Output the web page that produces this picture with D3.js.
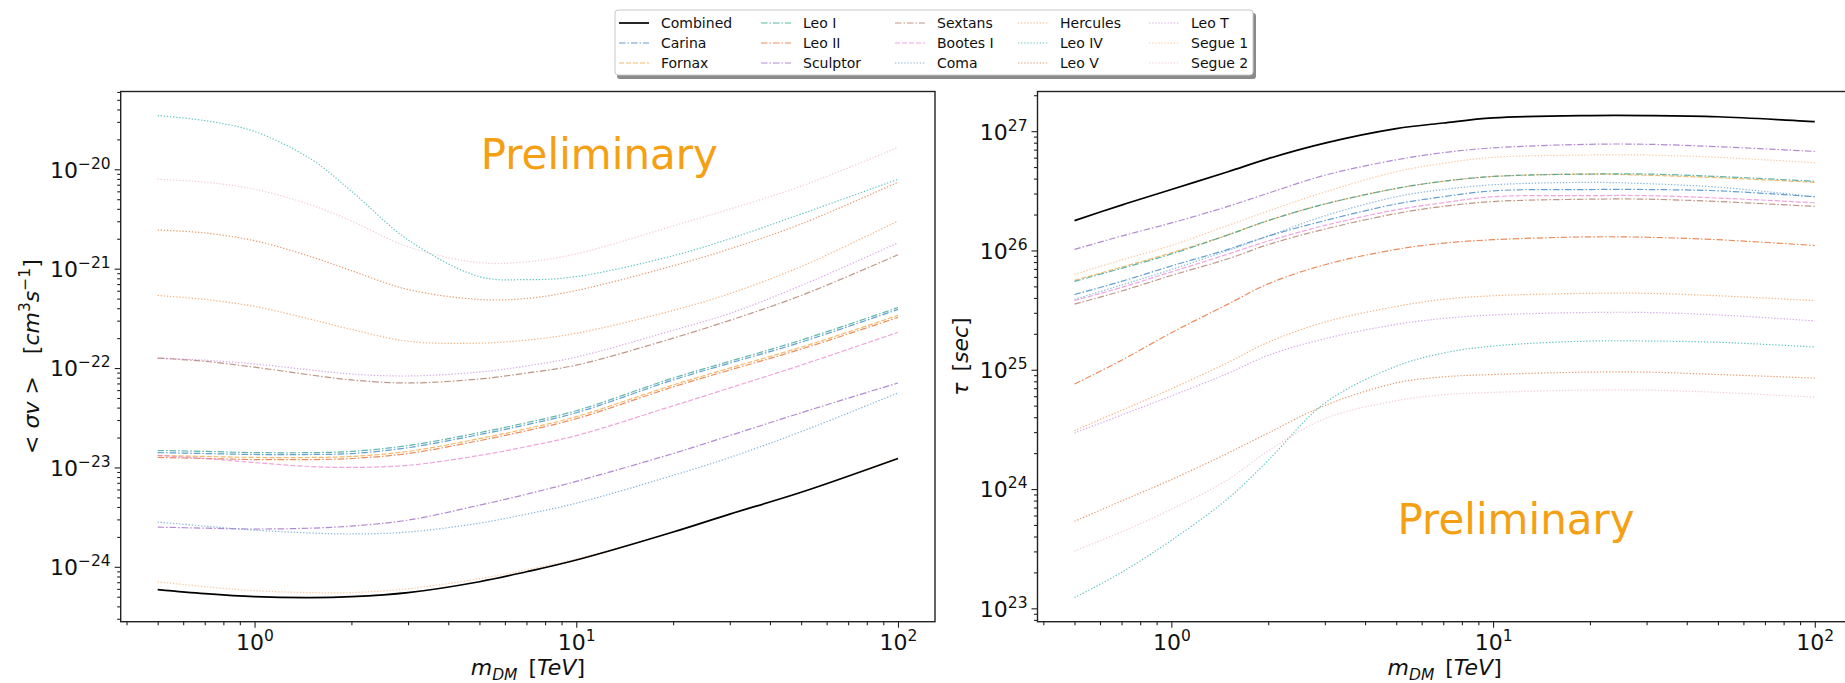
<!DOCTYPE html>
<html>
<head>
<meta charset="utf-8">
<script src="https://cdn.jsdelivr.net/npm/d3@7"></script>
<style>
    html, body { margin: 0; padding: 0; background: #fff; }
    svg { display: block; font-family: 'DejaVu Sans', sans-serif; }
</style>
</head>
<body>
<svg id="chart" width="1845" height="683"></svg>
<script>
'use strict'

// dark matter mass grid, TeV
const masses = [0.5, 0.7, 1, 1.5, 2, 3, 5, 7, 10, 20, 30, 50, 100]
const massTicks = [1, 10, 100]
const svTicks = [1e-24, 1e-23, 1e-22, 1e-21, 1e-20]
const tauTicks = [1e23, 1e24, 1e25, 1e26, 1e27]

const sources = ['Combined', 'Carina', 'Fornax', 'Leo I', 'Leo II', 'Sculptor', 'Sextans', 'Bootes I', 'Coma',
    'Hercules', 'Leo IV', 'Leo V', 'Leo T', 'Segue 1', 'Segue 2']

// <sigma v> limits, cm^3 s^-1
const svCombined = [5.89e-25, 5.37e-25, 5.01e-25, 4.90e-25, 5.01e-25, 5.50e-25, 7.08e-25, 8.91e-25, 1.17e-24, 2.24e-24, 3.39e-24, 5.62e-24, 1.23e-23]
const svCarina = [1.41e-23, 1.38e-23, 1.35e-23, 1.35e-23, 1.38e-23, 1.58e-23, 2.14e-23, 2.69e-23, 3.55e-23, 7.59e-23, 1.12e-22, 1.82e-22, 3.89e-22]
const svFornax = [1.32e-23, 1.29e-23, 1.26e-23, 1.26e-23, 1.29e-23, 1.45e-23, 1.95e-23, 2.45e-23, 3.24e-23, 6.76e-23, 1.00e-22, 1.62e-22, 3.39e-22]
const svLeoI = [1.48e-23, 1.45e-23, 1.41e-23, 1.41e-23, 1.45e-23, 1.66e-23, 2.24e-23, 2.82e-23, 3.72e-23, 7.94e-23, 1.17e-22, 1.91e-22, 4.07e-22]
const svLeoII = [1.26e-23, 1.23e-23, 1.20e-23, 1.20e-23, 1.23e-23, 1.38e-23, 1.86e-23, 2.34e-23, 3.09e-23, 6.46e-23, 9.55e-23, 1.55e-22, 3.24e-22]
const svSculptor = [2.51e-24, 2.45e-24, 2.40e-24, 2.45e-24, 2.57e-24, 2.95e-24, 4.17e-24, 5.37e-24, 7.24e-24, 1.38e-23, 2.09e-23, 3.55e-23, 7.08e-23]
const svSextans = [1.26e-22, 1.17e-22, 1.02e-22, 8.51e-23, 7.59e-23, 7.08e-23, 7.76e-23, 8.91e-23, 1.07e-22, 2.00e-22, 3.02e-22, 5.37e-22, 1.38e-21]
const svBootesI = [1.32e-23, 1.23e-23, 1.12e-23, 1.02e-23, 1.00e-23, 1.05e-23, 1.32e-23, 1.62e-23, 2.09e-23, 4.17e-23, 6.31e-23, 1.07e-22, 2.29e-22]
const svComa = [2.82e-24, 2.57e-24, 2.34e-24, 2.19e-24, 2.14e-24, 2.24e-24, 2.75e-24, 3.39e-24, 4.37e-24, 8.32e-24, 1.26e-23, 2.29e-23, 5.62e-23]
const svHercules = [5.37e-22, 4.90e-22, 4.17e-22, 3.09e-22, 2.45e-22, 1.86e-22, 1.78e-22, 1.91e-22, 2.24e-22, 3.80e-22, 5.62e-22, 1.05e-21, 3.02e-21]
const svLeoIV = [3.47e-20, 3.09e-20, 2.40e-20, 1.26e-20, 6.03e-21, 1.95e-21, 8.32e-22, 7.76e-22, 8.32e-22, 1.35e-21, 2.00e-21, 3.55e-21, 7.94e-21]
const svLeoV = [2.45e-21, 2.29e-21, 1.91e-21, 1.32e-21, 9.55e-22, 6.17e-22, 4.90e-22, 5.01e-22, 6.03e-22, 1.07e-21, 1.58e-21, 2.82e-21, 7.41e-21]
const svLeoT = [1.26e-22, 1.20e-22, 1.10e-22, 9.55e-23, 8.71e-23, 8.32e-23, 9.12e-23, 1.05e-22, 1.29e-22, 2.40e-22, 3.55e-22, 6.76e-22, 1.82e-21]
const svSegue1 = [7.08e-25, 6.31e-25, 5.75e-25, 5.50e-25, 5.50e-25, 6.03e-25, 7.59e-25, 9.33e-25, 1.20e-24, 2.24e-24, 3.39e-24, 5.62e-24, 1.25e-23]
const svSegue2 = [7.94e-21, 7.41e-21, 6.31e-21, 4.37e-21, 3.02e-21, 1.66e-21, 1.15e-21, 1.17e-21, 1.41e-21, 2.69e-21, 3.98e-21, 6.76e-21, 1.66e-20]

// lifetime limits, s
const tauCombined = [1.78e26, 2.40e26, 3.24e26, 4.57e26, 5.89e26, 7.94e26, 1.05e27, 1.17e27, 1.29e27, 1.35e27, 1.35e27, 1.32e27, 1.20e27]
const tauCarina = [4.27e25, 5.50e25, 7.41e25, 1.02e26, 1.32e26, 1.78e26, 2.45e26, 2.82e26, 3.16e26, 3.24e26, 3.24e26, 3.16e26, 2.82e26]
const tauFornax = [5.62e25, 7.24e25, 9.55e25, 1.35e26, 1.78e26, 2.45e26, 3.31e26, 3.80e26, 4.17e26, 4.37e26, 4.27e26, 4.07e26, 3.72e26]
const tauLeoI = [5.50e25, 7.08e25, 9.33e25, 1.35e26, 1.78e26, 2.45e26, 3.31e26, 3.80e26, 4.17e26, 4.37e26, 4.37e26, 4.17e26, 3.80e26]
const tauLeoII = [7.59e24, 1.20e25, 2.04e25, 3.55e25, 5.25e25, 7.59e25, 1.02e26, 1.15e26, 1.23e26, 1.30e26, 1.29e26, 1.23e26, 1.10e26]
const tauSculptor = [1.02e26, 1.32e26, 1.70e26, 2.34e26, 3.02e26, 4.27e26, 5.75e26, 6.61e26, 7.24e26, 7.76e26, 7.76e26, 7.41e26, 6.76e26]
const tauSextans = [3.55e25, 4.57e25, 6.17e25, 8.51e25, 1.12e26, 1.51e26, 2.04e26, 2.34e26, 2.57e26, 2.69e26, 2.69e26, 2.57e26, 2.34e26]
const tauBootesI = [3.80e25, 4.90e25, 6.61e25, 9.33e25, 1.20e26, 1.62e26, 2.19e26, 2.51e26, 2.82e26, 2.88e26, 2.88e26, 2.75e26, 2.51e26]
const tauComa = [3.89e25, 5.13e25, 6.92e25, 1.00e26, 1.32e26, 1.95e26, 2.82e26, 3.24e26, 3.55e26, 3.72e26, 3.63e26, 3.39e26, 2.82e26]
const tauHercules = [3.09e24, 4.57e24, 6.92e24, 1.15e25, 1.70e25, 2.51e25, 3.39e25, 3.89e25, 4.17e25, 4.37e25, 4.37e25, 4.17e25, 3.80e25]
const tauLeoIV = [1.23e23, 2.00e23, 3.72e23, 8.32e23, 1.74e24, 5.25e24, 1.07e25, 1.38e25, 1.58e25, 1.74e25, 1.74e25, 1.70e25, 1.55e25]
const tauLeoV = [5.37e23, 7.94e23, 1.20e24, 2.00e24, 2.95e24, 5.01e24, 7.76e24, 8.71e24, 9.12e24, 9.55e24, 9.55e24, 9.12e24, 8.51e24]
const tauLeoT = [2.95e24, 4.17e24, 6.03e24, 9.33e24, 1.32e25, 1.82e25, 2.40e25, 2.69e25, 2.88e25, 3.02e25, 3.02e25, 2.88e25, 2.57e25]
const tauSegue1 = [6.31e25, 8.32e25, 1.10e26, 1.62e26, 2.14e26, 3.09e26, 4.57e26, 5.37e26, 6.03e26, 6.31e26, 6.31e26, 6.03e26, 5.43e26]
const tauSegue2 = [3.02e23, 4.37e23, 6.76e23, 1.20e24, 2.09e24, 3.89e24, 5.50e24, 6.17e24, 6.46e24, 6.76e24, 6.76e24, 6.46e24, 5.89e24]

const svSeries = [svCombined, svCarina, svFornax, svLeoI, svLeoII, svSculptor, svSextans, svBootesI, svComa,
    svHercules, svLeoIV, svLeoV, svLeoT, svSegue1, svSegue2]
const tauSeries = [tauCombined, tauCarina, tauFornax, tauLeoI, tauLeoII, tauSculptor, tauSextans, tauBootesI, tauComa,
    tauHercules, tauLeoIV, tauLeoV, tauLeoT, tauSegue1, tauSegue2]

// styling
const lineColors = ['#000000', '#2f7fc0', '#f2a33a', '#2a9d8f', '#e4672a', '#9a62c4', '#a8745e', '#ea86d2', '#5a9bd0',
    '#f59a52', '#2bb0b0', '#dd7a3c', '#c98ae0', '#f8b47a', '#f3b8cc']
const lineStyles = ['solid', 'dashdot', 'dashed', 'dashdot', 'dashdot', 'dashdot', 'dashdot', 'dashed', 'dotted',
    'dotted', 'dotted', 'dotted', 'dotted', 'dotted', 'dotted']
const dashes = { solid: null, dashed: '5,2', dashdot: '6.5,2,1.5,2', dotted: '1.3,1.8' }

const FONT = "'DejaVu Sans', sans-serif"

function padLog([lo, hi]) {
    let a = Math.log10(lo), b = Math.log10(hi), p = (b - a) * 0.05
    return [10 ** (a - p), 10 ** (b + p)]
}

function minorTicks([lo, hi]) {
    let out = []
    for (let k = Math.floor(Math.log10(lo)); k <= Math.ceil(Math.log10(hi)); k++)
        for (let j = 2; j <= 9; j++) {
            let v = j * 10 ** k
            if (v >= lo && v <= hi) out.push(v)
        }
    return out
}

function powerLabel(sel, d) {
    let e = Math.round(Math.log10(d))
    sel.text(null)
    sel.append('tspan').text('10')
    sel.append('tspan').attr('font-size', '15.5px').attr('dy', -9).text(String(e).replace('-', '\u2212'))
}

class LimitPanel {

    constructor(svg, frame) { this.svg = svg; this.frame = frame }

    render(series, ticks, note) {
        let f = this.frame
        let g = this.svg.append('g')

        let x = d3.scaleLog().domain(padLog(d3.extent(masses))).range([f.left, f.right])
        let y = d3.scaleLog().domain(padLog(d3.extent(series.flat()))).range([f.bottom, f.top])

        // axes: minor then major
        let xMinor = g.append('g').attr('transform', `translate(0, ${f.bottom})`)
            .call(d3.axisBottom(x).tickValues(minorTicks(x.domain())).tickSize(3.5).tickFormat(''))
        let yMinor = g.append('g').attr('transform', `translate(${f.left}, 0)`)
            .call(d3.axisLeft(y).tickValues(minorTicks(y.domain())).tickSize(3.5).tickFormat(''))

        let xAxis = g.append('g').attr('transform', `translate(0, ${f.bottom})`)
            .call(d3.axisBottom(x).tickValues(massTicks).tickSize(6).tickPadding(8))
        let yAxis = g.append('g').attr('transform', `translate(${f.left}, 0)`)
            .call(d3.axisLeft(y).tickValues(ticks).tickSize(6).tickPadding(4))

        for (let a of [xMinor, yMinor, xAxis, yAxis]) {
            a.select('.domain').remove()
            a.selectAll('line').attr('stroke', '#222').attr('stroke-width', 1.1)
            a.attr('font-family', FONT).attr('font-size', '22px')
        }
        xAxis.selectAll('.tick text').attr('fill', '#111').attr('y', 28).attr('dy', 0).each(function (d) { powerLabel(d3.select(this), d) })
        yAxis.selectAll('.tick text').attr('fill', '#111').attr('dy', '0.36em').each(function (d) { powerLabel(d3.select(this), d) })

        // curves
        let line = d3.line().x(d => x(d[0])).y(d => y(d[1])).curve(d3.curveCatmullRom.alpha(0.5))
        let rows = series.map((s, i) => ({ i: i, values: masses.map((m, j) => [m, s[j]]) }))

        g.append('g')
            .selectAll('path')
            .data(rows.slice(1).concat(rows.slice(0, 1)))
            .enter()
            .append('path')
            .attr('d', d => line(d.values))
            .attr('fill', 'none')
            .attr('stroke', d => lineColors[d.i])
            .attr('stroke-width', d => d.i === 0 ? 1.7 : 1.2)
            .attr('stroke-opacity', d => d.i === 0 ? 1 : 0.75)
            .attr('stroke-dasharray', d => dashes[lineStyles[d.i]])

        g.append('rect')
            .attr('x', f.left).attr('y', f.top)
            .attr('width', f.right - f.left).attr('height', f.bottom - f.top)
            .attr('fill', 'none').attr('stroke', '#222').attr('stroke-width', 1.4)

        g.append('text')
            .attr('x', f.left + 360).attr('y', note)
            .attr('font-family', FONT).attr('font-size', '42px').attr('fill', '#f5a012')
            .text('Preliminary')

        // x label: m_DM [TeV]
        let xl = g.append('text')
            .attr('x', (f.left + f.right) / 2).attr('y', 675)
            .attr('text-anchor', 'middle').attr('font-family', FONT).attr('font-size', '22px').attr('fill', '#111')
        xl.append('tspan').attr('font-style', 'italic').text('m')
        xl.append('tspan').attr('font-style', 'italic').attr('font-size', '15.5px').attr('dy', 5).text('DM')
        xl.append('tspan').attr('dy', -5).text('\u2002[')
        xl.append('tspan').attr('font-style', 'italic').text('TeV')
        xl.append('tspan').text(']')

        return g
    }
}

let svg = d3.select('#chart')
let frameLeft = { left: 120.7, right: 935, top: 91.5, bottom: 621.7 }
let frameRight = { left: 1037.5, right: 1851.8, top: 91.5, bottom: 621.7 }

new LimitPanel(svg, frameLeft).render(svSeries, svTicks, 169)
new LimitPanel(svg, frameRight).render(tauSeries, tauTicks, 534)

// y labels
let yl = svg.append('text')
    .attr('transform', `translate(39, ${(frameLeft.top + frameLeft.bottom) / 2}) rotate(-90)`)
    .attr('text-anchor', 'middle').attr('font-family', FONT).attr('font-size', '22px').attr('fill', '#111')
yl.append('tspan').text('< ')
yl.append('tspan').attr('font-style', 'italic').text('\u03c3v')
yl.append('tspan').text(' >\u2003[')
yl.append('tspan').attr('font-style', 'italic').text('cm')
yl.append('tspan').attr('font-size', '15.5px').attr('dy', -9).text('3')
yl.append('tspan').attr('font-style', 'italic').attr('dy', 9).text('s')
yl.append('tspan').attr('font-size', '15.5px').attr('dy', -9).text('\u22121')
yl.append('tspan').attr('dy', 9).text(']')

let tl = svg.append('text')
    .attr('transform', `translate(968, ${(frameRight.top + frameRight.bottom) / 2}) rotate(-90)`)
    .attr('text-anchor', 'middle').attr('font-family', FONT).attr('font-size', '22px').attr('fill', '#111')
tl.append('tspan').attr('font-style', 'italic').text('\u03c4')
tl.append('tspan').text('\u2002[')
tl.append('tspan').attr('font-style', 'italic').text('sec')
tl.append('tspan').text(']')

// legend, column-major like matplotlib ncol=5
let legendCols = [661, 803, 937, 1060, 1191]
let legendRows = [23, 43, 63]
let legend = svg.append('g').attr('font-family', FONT).attr('font-size', '14px')

legend.append('rect').attr('x', 617).attr('y', 13).attr('width', 639).attr('height', 66).attr('rx', 3)
    .attr('fill', '#8a8a8a')
legend.append('rect').attr('x', 615).attr('y', 10).attr('width', 638).attr('height', 65).attr('rx', 3)
    .attr('fill', '#fff').attr('stroke', '#c8c8c8').attr('stroke-width', 1)

let entries = legend.selectAll('g.entry')
    .data(sources.map((s, i) => ({ name: s, i: i })))
    .enter()
    .append('g')
    .attr('class', 'entry')
    .attr('transform', d => `translate(${legendCols[Math.floor(d.i / 3)]}, ${legendRows[d.i % 3]})`)

entries.append('line')
    .attr('x1', -42).attr('x2', -12).attr('y1', 0).attr('y2', 0)
    .attr('stroke', d => lineColors[d.i])
    .attr('stroke-width', d => d.i === 0 ? 1.7 : 1.2)
    .attr('stroke-opacity', d => d.i === 0 ? 1 : 0.75)
    .attr('stroke-dasharray', d => dashes[lineStyles[d.i]])

entries.append('text')
    .attr('dy', '0.36em').attr('fill', '#111')
    .text(d => d.name)
</script>
</body>
</html>
